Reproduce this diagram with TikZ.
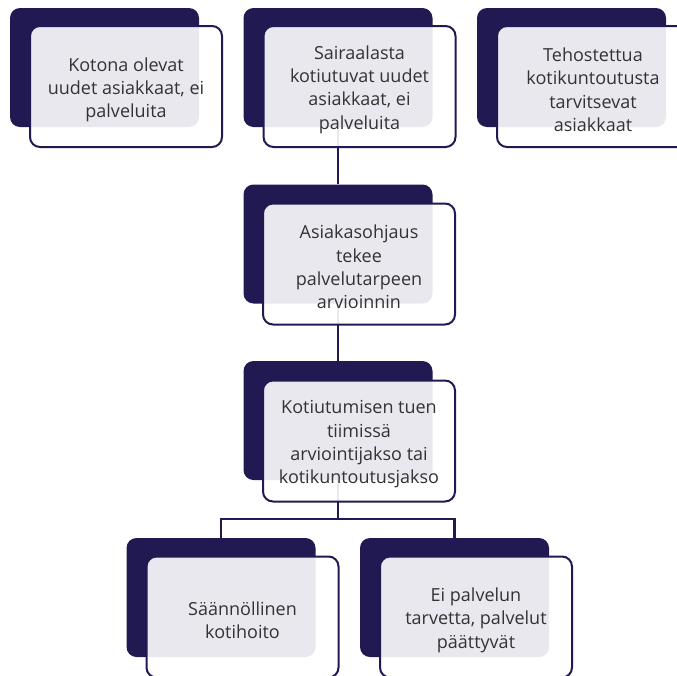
\documentclass[tikz,border=0pt]{standalone}
\usepackage{fontspec}
\setmainfont{Open Sans}
\definecolor{navy}{HTML}{211A52}
\definecolor{ink}{HTML}{333333}
\newcommand{\boxText}{\fontsize{18}{23.3}\selectfont}
\newcommand{\topPad}{\rule{0pt}{20pt}}

\begin{document}
\begin{tikzpicture}[x=1pt,y=-1pt,
  back/.style={rounded corners=10pt, fill=navy, inner sep=0pt, minimum width=189pt, minimum height=119pt},
  front/.style={rounded corners=10pt, draw=navy, line width=2pt, fill=white, fill opacity=0.9, text opacity=1, text=ink, inner sep=0pt, minimum width=192pt, minimum height=121pt, align=center, font=\boxText},
  link/.style={draw=navy, line width=2.5pt}]
\useasboundingbox (0,0) rectangle (677,675);
\clip (0,0) rectangle (677,675);
\node[back] (b1) at (104.5,67.5) {};
\node[back] (b2) at (338,67.5) {};
\node[back] (b3) at (571.5,67.5) {};
\node[back] (b4) at (338,244) {};
\node[back] (b5) at (338,420.5) {};
\node[back] (b6) at (221,597.5) {};
\node[back] (b7) at (454.5,597.5) {};
\coordinate (fork) at (338,519);
\draw[link] (b2.south) -- (b4.north);
\draw[link] (b4.south) -- (b5.north);
\draw[link] (b5.south) -- (fork);
\draw[link] (b6.north) |- (fork) -| (b7.north);
\node[front] (f1) at (126,86.5) {\topPad Kotona olevat\\uudet asiakkaat, ei\\palveluita};
\node[front] (f2) at (359.5,86.5) {\topPad Sairaalasta\\kotiutuvat uudet\\asiakkaat, ei\\palveluita};
\node[front] (f3) at (593,86.5) {\topPad Tehostettua\\kotikuntoutusta\\tarvitsevat\\asiakkaat};
\node[front] (f4) at (359,264) {\topPad Asiakasohjaus\\tekee\\palvelutarpeen\\arvioinnin};
\node[front] (f5) at (359,441) {\topPad Kotiutumisen tuen\\tiimissä\\arviointijakso tai\\kotikuntoutusjakso};
\node[front] (f6) at (242.5,617) {\topPad Säännöllinen\\kotihoito};
\node[front] (f7) at (476,617) {\topPad Ei palvelun\\tarvetta, palvelut\\päättyvät};
\end{tikzpicture}
\end{document}
